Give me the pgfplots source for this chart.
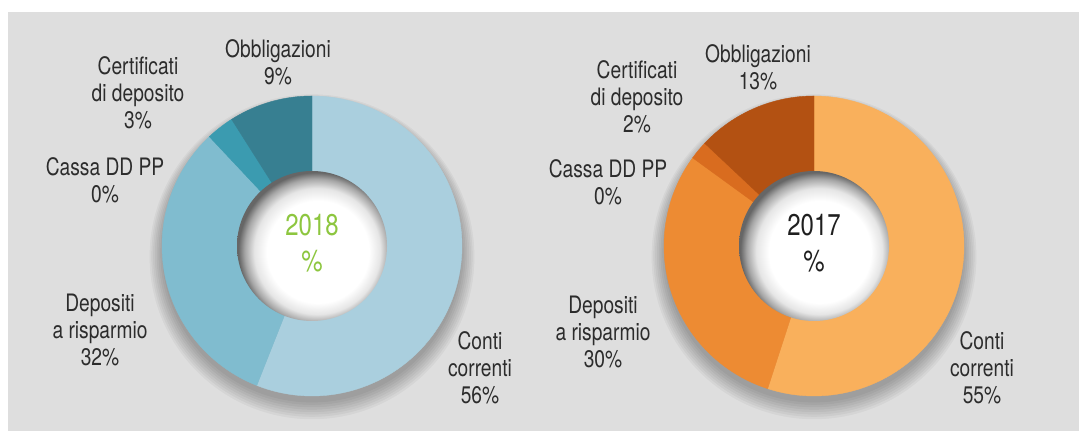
\documentclass[border=0pt]{standalone}
\usepackage{fontspec}
\setmainfont{TeX Gyre Heros}[FakeStretch=0.8]
\usepackage{pgfplots}
\usepackage{pgfplotstable}
\pgfplotsset{compat=1.18}

% colours: a = 2018 (blue), b = 2017 (orange); 0..4 = Conti, Depositi, Cassa, Certificati, Obbligazioni
\definecolor{a0}{HTML}{AACFDE}
\definecolor{a1}{HTML}{80BCCF}
\definecolor{a2}{HTML}{5FA9BF}
\definecolor{a3}{HTML}{3B9BB0}
\definecolor{a4}{HTML}{377F91}
\definecolor{b0}{HTML}{F9B05C}
\definecolor{b1}{HTML}{ED8B33}
\definecolor{b2}{HTML}{E07A26}
\definecolor{b3}{HTML}{D96C1F}
\definecolor{b4}{HTML}{B35112}
\definecolor{panel}{HTML}{DEDEDE}
\definecolor{lbl}{HTML}{2C2C2C}
\definecolor{yrgreen}{HTML}{8DC63F}

% shares in %, clockwise from 12 o'clock
\pgfplotstableread{
share
56
32
0
3
9
}\dataA
\pgfplotstableread{
share
55
30
0
2
13
}\dataB

\pgfdeclareradialshading{hole}{\pgfpoint{3bp}{-3bp}}{%
  color(0bp)=(white); color(17bp)=(white); color(21bp)=(black!10);
  color(24bp)=(black!35); color(26bp)=(black!60); color(50bp)=(black!60)}

\newcommand\donut[2]{%
  \gdef\cum{0}%
  \pgfplotsinvokeforeach{0,...,4}{%
    \pgfplotstablegetelem{##1}{share}\of#1%
    \let\sh\pgfplotsretval
    \pgfmathsetmacro\a{90-3.6*\cum}%
    \pgfmathsetmacro\cumnew{\cum+\sh}%
    \pgfmathsetmacro\b{90-3.6*\cumnew}%
    \global\let\cum\cumnew
    \pgfmathparse{\sh>0 ? 1 : 0}%
    \ifnum\pgfmathresult=1
      \edef\tmp{\noexpand\addplot[fill=#2##1, draw=#2##1, line width=0.2pt,
        domain=\b:\a, samples=90] ({cos(x)},{sin(x)}) -- (0,0) -- cycle;}%
      \tmp
    \fi
  }%
}

\pgfplotsset{donut/.style={
  hide axis, scale only axis, width=150pt, height=150pt,
  xmin=-1, xmax=1, ymin=-1, ymax=1, clip=false, anchor=center}}

\begin{document}
\begin{tikzpicture}[x=1pt, y=1pt]
  \fill[white] (0,0) rectangle (539.5,215.5);
  \fill[panel] (4,0) rectangle (539.5,209.5);

  % soft shadows beneath the rings
  \foreach \cx in {156,407}{
    \foreach \k in {1,...,8}{
      \fill[black, opacity=0.04] (\cx,89.5-0.3*\k) circle (74+0.9*\k);
    }
  }

  \begin{axis}[donut, at={(156pt,92.5pt)}]
    \donut{\dataA}{a}
  \end{axis}
  \begin{axis}[donut, at={(407pt,92.5pt)}]
    \donut{\dataB}{b}
  \end{axis}

  % centre holes
  \foreach \cx in {156,407}{
    \shade[shading=hole] (\cx,92.5) circle (37.5);
  }

  \begin{scope}[every node/.style={align=center, text=lbl,
      font=\fontsize{12}{13.5}\selectfont}]
    \node at (139,184.5) {Obbligazioni\\9\%};
    \node at (69,169) {Certificati\\di deposito\\3\%};
    \node at (52.5,125.5) {Cassa DD PP\\0\%};
    \node at (50,50.5) {Depositi\\a risparmio\\32\%};
    \node at (240,31.5) {Conti\\correnti\\56\%};

    \node at (379,182) {Obbligazioni\\13\%};
    \node at (318.5,167) {Certificati\\di deposito\\2\%};
    \node at (304,124.5) {Cassa DD PP\\0\%};
    \node at (301.5,49.5) {Depositi\\a risparmio\\30\%};
    \node at (491,31.5) {Conti\\correnti\\55\%};
  \end{scope}

  \node[align=center, text=yrgreen, font=\fontsize{15}{18}\selectfont]
    at (156,94) {2018\\\%};
  \node[align=center, text=black!88, font=\fontsize{15}{18}\selectfont]
    at (407,94) {2017\\\%};
\end{tikzpicture}
\end{document}
